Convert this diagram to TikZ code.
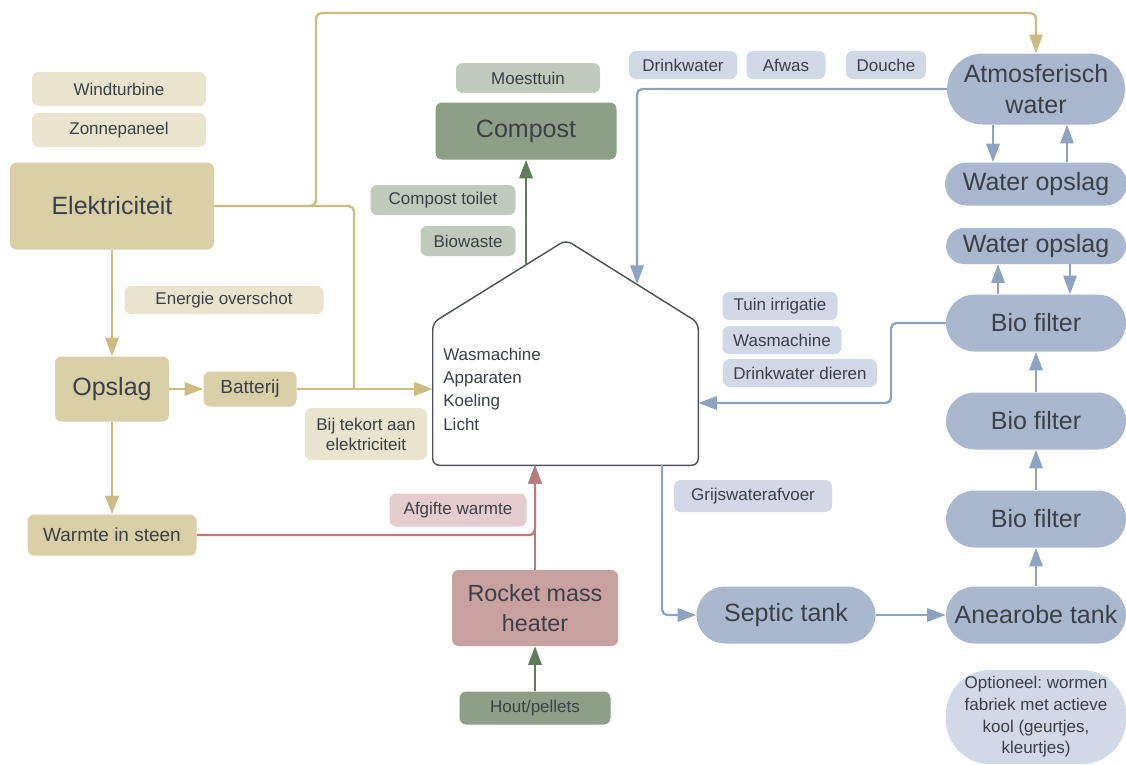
\documentclass[tikz,border=0pt]{standalone}
\usepackage{fontspec}
\setmainfont{Liberation Sans}
\frenchspacing
\usetikzlibrary{arrows.meta}
\usetikzlibrary{shapes.misc}

\definecolor{tekst}{HTML}{3B4048}
\definecolor{geeldonker}{HTML}{D9D0A7}
\definecolor{geellicht}{HTML}{E9E4CD}
\definecolor{geellijn}{HTML}{CBBD82}
\definecolor{groendonker}{HTML}{8D9F86}
\definecolor{groenlicht}{HTML}{C1CBBD}
\definecolor{groenlijn}{HTML}{5F7B5A}
\definecolor{rooddonker}{HTML}{C9A1A0}
\definecolor{roodlicht}{HTML}{E5CDCF}
\definecolor{roodlijn}{HTML}{B97B7B}
\definecolor{blauwdonker}{HTML}{A9B8CF}
\definecolor{blauwlicht}{HTML}{D0D9E5}
\definecolor{blauwlijn}{HTML}{8EA3C2}

\tikzset{
  maat/.style 2 args={minimum width=#1*0.75pt, minimum height=#2*0.75pt},
  blok/.style={rectangle, rounded corners=5pt, inner sep=0pt, text=tekst, align=center},
  pil/.style={rounded rectangle, inner sep=0pt, text=tekst, align=center, fill=blauwdonker},
  groot/.style={font=\fontsize{18.75}{23.75}\selectfont},
  mid/.style={font=\fontsize{14.25}{17}\selectfont},
  klein/.style={font=\fontsize{12.75}{15}\selectfont},
  lijn/.style={line width=1.8pt, rounded corners=4pt, -{Triangle[length=14pt, width=10pt]}},
  geel/.style={lijn, draw=geellijn},
  groen/.style={lijn, draw=groenlijn},
  rood/.style={lijn, draw=roodlijn},
  blauw/.style={lijn, draw=blauwlijn}
}

\begin{document}
\begin{tikzpicture}[x=0.75pt, y=-0.75pt]
\useasboundingbox (0,0) rectangle (1126,764);

% energie
\node[blok, klein, fill=geellicht, maat={174}{34}] (wind) at (119,89) {Windturbine};
\node[blok, klein, fill=geellicht, maat={174}{34}] (zon) at (119,130) {Zonnepaneel};
\node[blok, groot, fill=geeldonker, maat={204}{87}] (elek) at (112,206) {Elektriciteit};
\node[blok, klein, fill=geellicht, maat={199}{28}] (overschot) at (224,300) {Energie overschot};
\node[blok, groot, fill=geeldonker, maat={114}{65}] (opslag) at (112,389) {Opslag};
\node[blok, mid, fill=geeldonker, maat={93}{35}] (bat) at (250,389) {Batterij};
\node[blok, klein, fill=geellicht, maat={122}{52}, font=\fontsize{12.75}{15}\selectfont] (tekort) at (366,434) {Bij tekort aan\\elektriciteit};
\node[blok, mid, fill=geeldonker, maat={169}{41}] (warmte) at (112,535) {Warmte in steen};

% compost
\node[blok, klein, fill=groenlicht, maat={144}{30}] (moes) at (528,78) {Moesttuin};
\node[blok, groot, fill=groendonker, maat={181}{57}] (compost) at (526,131) {Compost};
\node[blok, klein, fill=groenlicht, maat={145}{30}] (toilet) at (443,200) {Compost toilet};
\node[blok, klein, fill=groenlicht, maat={95}{30}] (bio) at (468,241) {Biowaste};

% huis
\node[maat={265}{142}] (huis) at (565.5,394) {};
\coordinate (nok) at (566,240);
\draw[draw=tekst!90, line width=1.1pt, rounded corners=5pt] (huis.south west) -- (huis.north west) -- (nok) -- (huis.north east) -- (huis.south east) -- cycle;
\node[anchor=base west, align=left, inner sep=0pt, text=tekst, font=\fontsize{12.75}{17.5}\selectfont] (huistekst) at (443,430) {Wasmachine\\Apparaten\\Koeling\\Licht};
\coordinate (dakl) at (526,265);
\coordinate (dakr) at (637,284);
\coordinate (splits) at (354,389);
\coordinate (hbodem) at (535,465);
\coordinate (hafvoer) at (662,465);
\coordinate (bocht) at (891,403);

% warmte
\node[blok, klein, fill=roodlicht, maat={137}{33}] (afgifte) at (458,510) {Afgifte warmte};
\node[blok, fill=rooddonker, maat={166}{76}, font=\fontsize{17.5}{22.5}\selectfont] (raket) at (535,608) {Rocket mass\\heater};
\node[blok, klein, fill=groendonker, maat={151}{33}] (hout) at (535,708) {Hout/pellets};

% water
\node[blok, klein, fill=blauwlicht, maat={108}{28}] (drink) at (683,65) {Drinkwater};
\node[blok, klein, fill=blauwlicht, maat={79}{28}] (afwas) at (786,65) {Afwas};
\node[blok, klein, fill=blauwlicht, maat={80}{28}] (douche) at (886,65) {Douche};
\node[pil, groot, maat={178}{71}, font=\fontsize{18.75}{23.75}\selectfont] (atmos) at (1036,89) {Atmosferisch\\water};
\node[pil, groot, maat={182}{43}] (wopslag) at (1036,184) {Water opslag};
\node[pil, groot, maat={180}{36}] (wopslagb) at (1036,246) {Water opslag};
\node[pil, groot, maat={180}{57}] (filtera) at (1036,323) {Bio filter};
\node[pil, groot, maat={180}{57}] (filterb) at (1036,421) {Bio filter};
\node[pil, groot, maat={180}{57}] (filterc) at (1036,519) {Bio filter};
\node[pil, groot, maat={180}{57}] (anae) at (1036,615) {Anearobe tank};
\node[pil, groot, maat={179}{57}] (septic) at (786,615) {Septic tank};
\node[blok, rounded corners=33pt, fill=blauwlicht, maat={180}{94}, font=\fontsize{12.75}{16.25}\selectfont] (optie) at (1036,717) {Optioneel: wormen\\fabriek met actieve\\kool (geurtjes,\\kleurtjes)};
\node[blok, klein, fill=blauwlicht, maat={115}{28}] (tuin) at (780,306) {Tuin irrigatie};
\node[blok, klein, fill=blauwlicht, maat={119}{28}] (wasm) at (782,340) {Wasmachine};
\node[blok, klein, fill=blauwlicht, maat={154}{28}] (dieren) at (800,373) {Drinkwater dieren};
\node[blok, klein, fill=blauwlicht, maat={158}{32}] (grijs) at (753,496) {Grijswaterafvoer};

% verbindingen
\draw[geel] (elek.east) -| (316,13) -| (atmos.north);
\draw[geel, -] (elek.east) -| (splits);
\draw[geel] (bat.east) -- (bat.east -| huis.west);
\draw[geel] (elek.south) -- (opslag.north);
\draw[geel] (opslag.east) -- (bat.west);
\draw[geel] (opslag.south) -- (warmte.north);

\draw[groen] (dakl) -- (dakl |- compost.south);
\draw[groen] (hout.north) -- (raket.south);

\draw[rood] (warmte.east) -| (hbodem);
\draw[rood] (raket.north) -- (hbodem);

\draw[blauw] (atmos.west) -| (dakr);
\draw[blauw] ([xshift=-32.25pt]atmos.south) -- ([xshift=-32.25pt]wopslag.north);
\draw[blauw] ([xshift=23.25pt]wopslag.north) -- ([xshift=23.25pt]atmos.south);
\draw[blauw] ([xshift=-28.5pt]filtera.north) -- ([xshift=-28.5pt]wopslagb.south);
\draw[blauw] ([xshift=25.5pt]wopslagb.south) -- ([xshift=25.5pt]filtera.north);
\draw[blauw] (filterb.north) -- (filtera.south);
\draw[blauw] (filterc.north) -- (filterb.south);
\draw[blauw] (anae.north) -- (filterc.south);
\draw[blauw] (filtera.west) -| (bocht) -- (bocht -| huis.east);
\draw[blauw] (hafvoer) |- (septic.west);
\draw[blauw] (septic.east) -- (anae.west);

\end{tikzpicture}
\end{document}
